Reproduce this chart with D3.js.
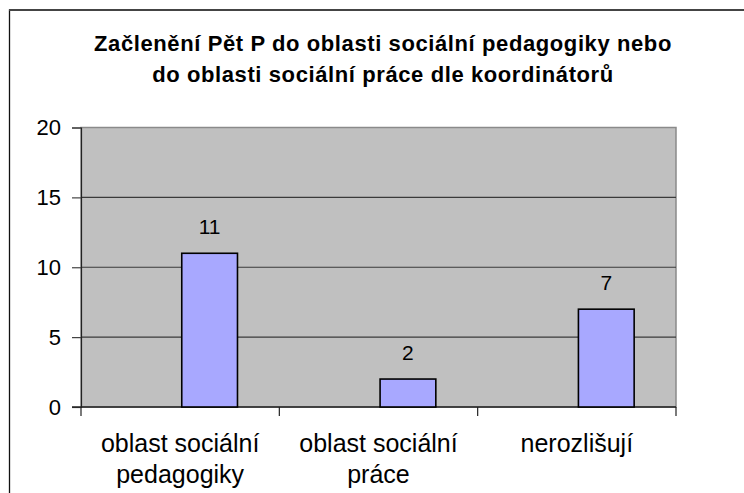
<!DOCTYPE html>
<html>
<head>
<meta charset="utf-8">
<script src="https://cdn.jsdelivr.net/npm/d3@7"></script>
<style>
  body { margin: 0; background: #fff; }
  text { font-family: "Liberation Sans", Arial, sans-serif; fill: #000; }
</style>
</head>
<body>
<svg id="chart" width="744" height="493"></svg>
<script>
// chart data
const categories = [["oblast sociální", "pedagogiky"], ["oblast sociální", "práce"], ["nerozlišují"]];
const values = [11, 2, 7];
const yTicks = [0, 5, 10, 15, 20];
const titleLines = ["Začlenění Pět P do oblasti sociální pedagogiky nebo", "do oblasti sociální práce dle koordinátorů"];

const svg = d3.select("#chart");
const plot = { left: 81, right: 676, top: 127.5, bottom: 407 };

// outer frame
svg.append("rect")
    .attr("x", 9.5).attr("y", 10)
    .attr("width", 800).attr("height", 600)
    .attr("fill", "none")
    .attr("stroke", "#111").attr("stroke-width", 1.3);
svg.append("line")
    .attr("x1", 9).attr("x2", 744).attr("y1", 10).attr("y2", 10)
    .attr("stroke", "#444").attr("stroke-width", 2);

// title
svg.append("g").selectAll("text")
    .data(titleLines)
    .enter()
    .append("text")
    .attr("x", 383)
    .attr("y", (d, i) => 51 + i * 30.5)
    .attr("text-anchor", "middle")
    .style("font-size", "22px")
    .style("font-weight", "bold")
    .style("letter-spacing", "0.6px")
    .text(d => d);

const x = d3.scaleBand()
    .domain(d3.range(categories.length))
    .range([plot.left, plot.right]);
const y = d3.scaleLinear()
    .domain([0, 20])
    .range([plot.bottom, plot.top]);

// plot background
svg.append("rect")
    .attr("x", plot.left).attr("y", plot.top)
    .attr("width", plot.right - plot.left).attr("height", plot.bottom - plot.top)
    .attr("fill", "#c0c0c0")
    .attr("stroke", "#8a8a8a").attr("stroke-width", 1.5);

// gridlines
svg.append("g").selectAll("line")
    .data(yTicks.filter(d => d > 0 && d < 20))
    .enter()
    .append("line")
    .attr("x1", plot.left).attr("x2", plot.right)
    .attr("y1", d => y(d)).attr("y2", d => y(d))
    .attr("stroke", "#3a3a3a").attr("stroke-width", 1.2);

// y axis
const yAxis = svg.append("g")
    .attr("transform", `translate(${plot.left},0)`)
    .call(d3.axisLeft(y).tickValues(yTicks).tickSize(9).tickPadding(11));
yAxis.select(".domain").attr("stroke", "#222").attr("stroke-width", 1.2);
yAxis.selectAll(".tick line").attr("stroke", "#444").attr("stroke-width", 1.2);
yAxis.selectAll(".tick text")
    .style("font-size", "22px")
    .style("font-family", "'Liberation Sans', Arial, sans-serif")
    .attr("fill", "#000");

// x axis with ticks at category boundaries
const bounds = d3.range(categories.length + 1).map(i => plot.left + i * x.bandwidth());
svg.append("line")
    .attr("x1", plot.left - 9).attr("x2", plot.right)
    .attr("y1", plot.bottom).attr("y2", plot.bottom)
    .attr("stroke", "#222").attr("stroke-width", 1.5);
svg.append("g").selectAll("line")
    .data(bounds)
    .enter()
    .append("line")
    .attr("x1", d => d).attr("x2", d => d)
    .attr("y1", plot.bottom).attr("y2", plot.bottom + 9)
    .attr("stroke", "#222").attr("stroke-width", 1.2);

// category labels
const cat = svg.append("g").selectAll("text")
    .data(categories)
    .enter()
    .append("text")
    .attr("text-anchor", "middle")
    .style("font-size", "25px");
cat.selectAll("tspan")
    .data((d, i) => d.map(t => ({ t, i })))
    .enter()
    .append("tspan")
    .attr("x", d => x(d.i) + x.bandwidth() / 2)
    .attr("y", (d, j) => 452 + j * 31)
    .text(d => d.t);

// bars (sit in the right half of each category, like the original)
const barX = i => x(i) + x.bandwidth() * 0.508;
const barW = x.bandwidth() * 0.281;
svg.append("g").selectAll("rect")
    .data(values)
    .enter()
    .append("rect")
    .attr("x", (d, i) => barX(i))
    .attr("y", d => y(d))
    .attr("width", barW)
    .attr("height", d => y(0) - y(d))
    .attr("fill", "#a8a8ff")
    .attr("stroke", "#000").attr("stroke-width", 1.6);

// value labels
svg.append("g").selectAll("text")
    .data(values)
    .enter()
    .append("text")
    .attr("x", (d, i) => barX(i) + barW / 2)
    .attr("y", d => y(d) - 19)
    .attr("text-anchor", "middle")
    .style("font-size", "21px")
    .text(d => d);
</script>
</body>
</html>
